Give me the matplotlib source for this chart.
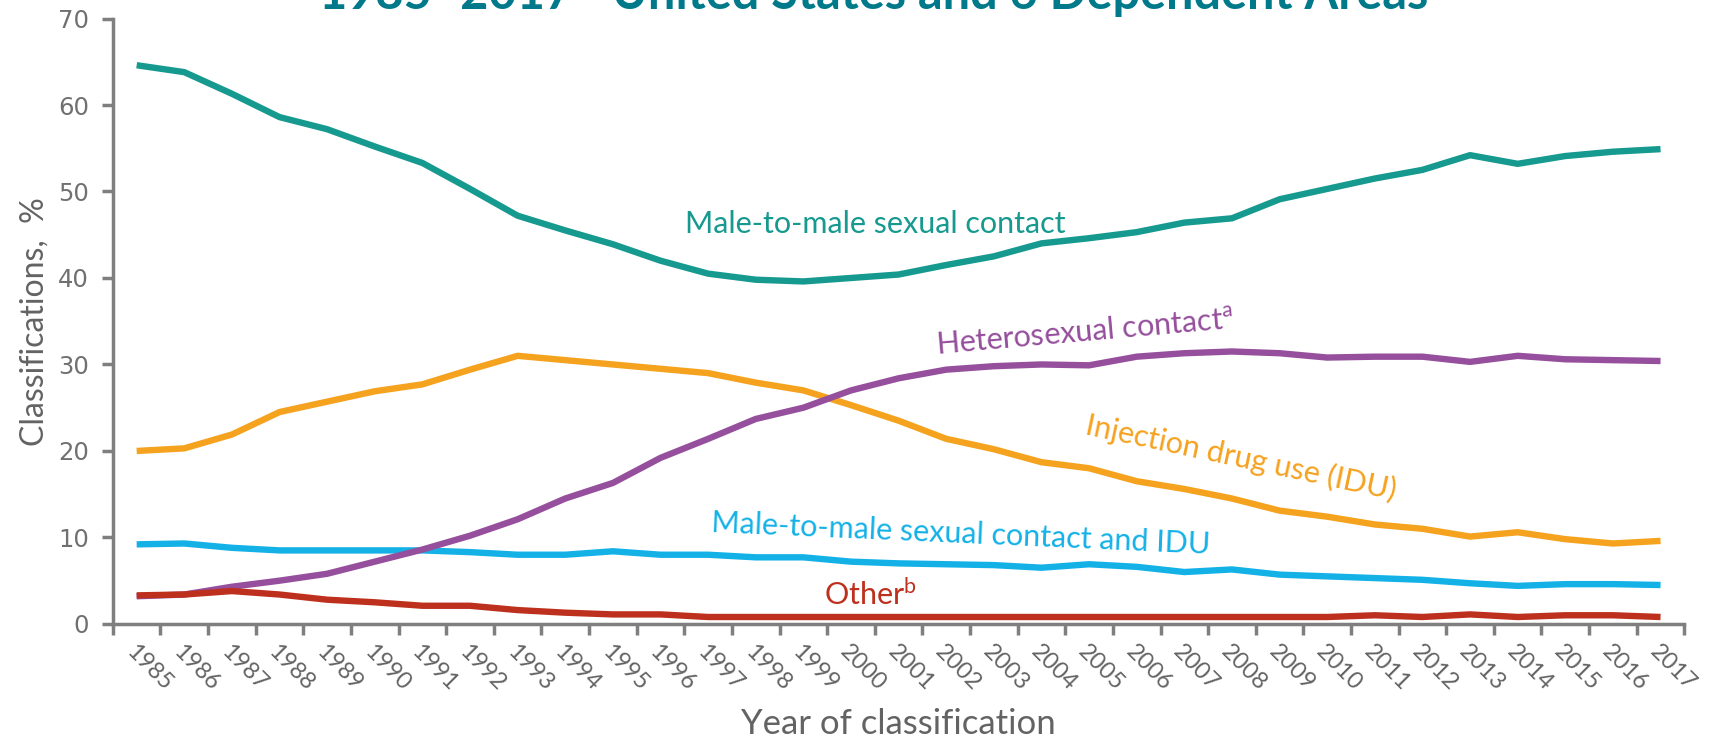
import numpy as np
import matplotlib
matplotlib.use("Agg")
import matplotlib.pyplot as plt

# ==========================================
# data (% of classifications)
# ==========================================
years = list(range(1985, 2018))

msm = [64.6, 63.8, 61.3, 58.6, 57.2, 55.2, 53.3, 50.3, 47.2, 45.5, 43.9,
       42.0, 40.5, 39.8, 39.6, 40.0, 40.4, 41.5, 42.5, 44.0, 44.6, 45.3,
       46.4, 46.9, 49.1, 50.3, 51.5, 52.5, 54.2, 53.2, 54.1, 54.6, 54.9]

idu = [20.0, 20.3, 21.9, 24.5, 25.7, 26.9, 27.7, 29.4, 31.0, 30.5, 30.0,
       29.5, 29.0, 27.9, 27.0, 25.3, 23.5, 21.4, 20.2, 18.7, 18.0, 16.5,
       15.6, 14.5, 13.1, 12.4, 11.5, 11.0, 10.1, 10.6, 9.8, 9.3, 9.6]

hetero = [3.2, 3.4, 4.3, 5.0, 5.8, 7.2, 8.6, 10.2, 12.1, 14.5, 16.3,
          19.2, 21.4, 23.7, 25.0, 27.0, 28.4, 29.4, 29.8, 30.0, 29.9, 30.9,
          31.3, 31.5, 31.3, 30.8, 30.9, 30.9, 30.3, 31.0, 30.6, 30.5, 30.4]

msm_idu = [9.2, 9.3, 8.8, 8.5, 8.5, 8.5, 8.5, 8.3, 8.0, 8.0, 8.4,
           8.0, 8.0, 7.7, 7.7, 7.2, 7.0, 6.9, 6.8, 6.5, 6.9, 6.6,
           6.0, 6.3, 5.7, 5.5, 5.3, 5.1, 4.7, 4.4, 4.6, 4.6, 4.5]

other = [3.3, 3.4, 3.8, 3.4, 2.8, 2.5, 2.1, 2.1, 1.6, 1.3, 1.1,
         1.1, 0.8, 0.8, 0.8, 0.8, 0.8, 0.8, 0.8, 0.8, 0.8, 0.8,
         0.8, 0.8, 0.8, 0.8, 1.0, 0.8, 1.1, 0.8, 1.0, 1.0, 0.8]

# colours
c_msm = "#16998F"
c_idu = "#F5A21F"
c_het = "#954F9C"
c_mi = "#14B1E7"
c_oth = "#BE301E"
c_title = "#00798A"
c_axis = "#7F7F7F"
c_text = "#636363"

plt.rcParams['font.family'] = ['Lato', 'DejaVu Sans']

fig = plt.figure(figsize=(17.1, 7.41), dpi=100)
ax = fig.add_axes([0.066, 0.158, 0.919, 0.817])

x = np.arange(len(years))
lw = 4.6
ax.plot(x, msm, color=c_msm, lw=lw, solid_capstyle='butt')
ax.plot(x, idu, color=c_idu, lw=lw, solid_capstyle='butt')
ax.plot(x, msm_idu, color=c_mi, lw=lw, solid_capstyle='butt')
ax.plot(x, hetero, color=c_het, lw=lw, solid_capstyle='butt')
ax.plot(x, other, color=c_oth, lw=lw, solid_capstyle='butt')

# axes styling (Excel-like: ticks between categories)
ax.set_xlim(-0.5, len(years) - 0.5)
ax.set_ylim(0, 70)
ax.set_yticks(range(0, 71, 10))
ax.set_yticklabels([str(v) for v in range(0, 71, 10)], family='DejaVu Sans')
ax.set_xticks(np.arange(-0.5, len(years), 1.0))
ax.set_xticklabels([])
ax.set_xticks(x, minor=True)
ax.set_xticklabels([str(y) for y in years], minor=True, rotation=-45,
                   ha='left', va='top', rotation_mode='anchor',
                   fontsize=17, color=c_text)
ax.tick_params(axis='x', which='major', length=8, width=2.5, color=c_axis, direction='out')
ax.tick_params(axis='x', which='minor', length=0, pad=12)
ax.tick_params(axis='y', length=8, width=2.5, color=c_axis, labelsize=17.5,
               labelcolor='#707070', pad=9)
for side in ['top', 'right']:
    ax.spines[side].set_visible(False)
for side in ['left', 'bottom']:
    ax.spines[side].set_color(c_axis)
    ax.spines[side].set_linewidth(2.5)

ax.set_ylabel('Classifications,  %', fontsize=23, color=c_text, labelpad=6)
ax.set_xlabel('Year of classification', fontsize=25, color=c_text, labelpad=10)

# line labels
fs = 22
ax.text(15.5, 46.2, 'Male-to-male sexual contact', color=c_msm, fontsize=fs,
        ha='center', va='center')
ax.text(19.9, 33.6, 'Heterosexual contact$^{\\mathregular{a}}$', color=c_het, fontsize=fs,
        ha='center', va='center', rotation=5)
ax.text(23.2, 19.2, 'Injection drug use (IDU)', color=c_idu, fontsize=fs,
        ha='center', va='center', rotation=-12)
ax.text(17.3, 10.4, 'Male-to-male sexual contact and IDU', color=c_mi, fontsize=fs,
        ha='center', va='center', rotation=-2.5)
ax.text(15.4, 3.5, 'Other$^{\\mathregular{b}}$', color=c_oth, fontsize=fs,
        ha='center', va='center')

# title, cut off at the top edge as in the original slide
fig.text(0.511, 0.988, '1985\u20132017\u2014United States and 6 Dependent Areas',
         color=c_title, fontsize=35, fontweight='bold', ha='center', va='baseline')

fig.savefig('out.png', dpi=100)
